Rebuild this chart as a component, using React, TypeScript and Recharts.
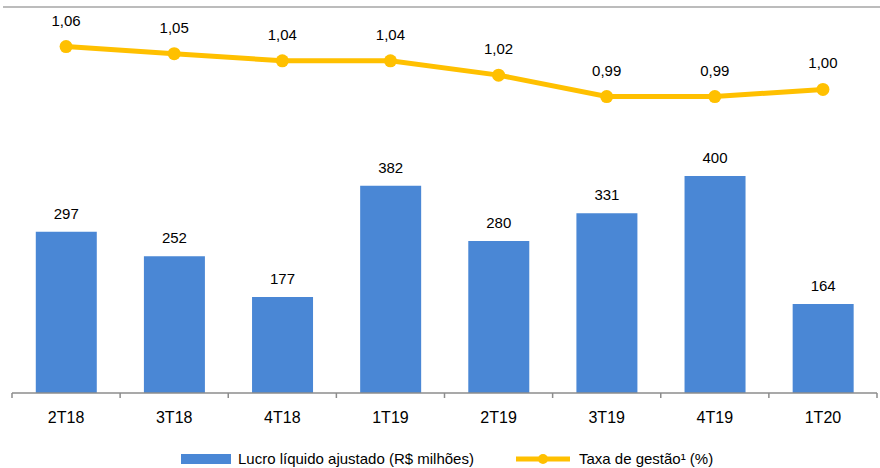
import { ComposedChart, Bar, Line, XAxis, YAxis, LabelList, Legend } from "recharts";

const quarters = ["2T18", "3T18", "4T18", "1T19", "2T19", "3T19", "4T19", "1T20"];
const lucro = [297, 252, 177, 382, 280, 331, 400, 164];
const taxa = [1.06, 1.05, 1.04, 1.04, 1.02, 0.99, 0.99, 1.0];

const data = quarters.map((q, i) => ({ name: q, lucro: lucro[i], taxa: taxa[i] }));

const W = 880;
const H = 468;
const M = { top: 18, right: 3, left: 12, bottom: 0 };
const BAND = (W - M.left - M.right) / quarters.length;

const FONT = '"Liberation Sans", Arial, sans-serif';
const BLUE = "#4a87d5";
const GOLD = "#ffc000";
const AXIS = "#8c8c8c";

const fmt = (v: number) => v.toFixed(2).replace(".", ",");

// category label plus a tick mark on the left boundary of each band (and the right end)
const AxisTick = ({ x, y, payload, index }: any) => (
  <g>
    <line x1={x - BAND / 2} x2={x - BAND / 2} y1={y} y2={y + 5} stroke={AXIS} strokeWidth={1.5} />
    {index === quarters.length - 1 && (
      <line x1={x + BAND / 2} x2={x + BAND / 2} y1={y} y2={y + 5} stroke={AXIS} strokeWidth={1.5} />
    )}
    <text x={x} y={y + 30} textAnchor="middle" fontSize={16} fontFamily={FONT} fill="#000">
      {payload.value}
    </text>
  </g>
);

const LegendBox = () => (
  <div style={{ display: "flex", alignItems: "center", paddingLeft: 181, fontFamily: FONT, fontSize: 15, color: "#000" }}>
    <span style={{ display: "inline-block", width: 50, height: 10, background: BLUE, marginRight: 7 }} />
    <span>Lucro líquido ajustado (R$ milhões)</span>
    <svg width={54} height={14} style={{ marginLeft: 42, marginRight: 9 }}>
      <line x1={0} x2={54} y1={7} y2={7} stroke={GOLD} strokeWidth={5} strokeLinecap="round" />
      <circle cx={27} cy={7} r={5} fill={GOLD} />
    </svg>
    <span>Taxa de gestão¹ (%)</span>
  </div>
);

export default function App() {
  return (
    <div style={{ position: "absolute", left: 0, top: 0, width: W, height: H, background: "#fff" }}>
      <div style={{ position: "absolute", left: 3, top: 6, width: 877, height: 2, background: "#bcbcbc" }} />
      <ComposedChart width={W} height={H} data={data} margin={M} barCategoryGap="22%">
        <XAxis
          dataKey="name"
          height={75}
          axisLine={{ stroke: AXIS, strokeWidth: 1.5 }}
          tickLine={false}
          tickSize={0}
          tickMargin={0}
          tick={<AxisTick />}
          interval={0}
        />
        <YAxis yAxisId="l" hide domain={[0, 691]} />
        <YAxis yAxisId="r" hide orientation="right" domain={[0.575, 1.1]} />
        <Legend
          verticalAlign="middle"
          align="center"
          layout="horizontal"
          content={<LegendBox />}
          wrapperStyle={{ top: 450, left: 0, width: W }}
        />
        <Bar yAxisId="l" dataKey="lucro" name="Lucro líquido ajustado (R$ milhões)" fill={BLUE} isAnimationActive={false}>
          <LabelList dataKey="lucro" position="top" offset={13} fontSize={15} fontFamily={FONT} fill="#000" />
        </Bar>
        <Line
          yAxisId="r"
          dataKey="taxa"
          name="Taxa de gestão¹ (%)"
          stroke={GOLD}
          strokeWidth={5}
          dot={{ r: 6.5, fill: GOLD, stroke: GOLD, strokeWidth: 0 }}
          isAnimationActive={false}
        >
          <LabelList dataKey="taxa" position="top" offset={21} fontSize={15} fontFamily={FONT} fill="#000" formatter={(v: any) => fmt(Number(v))} />
        </Line>
      </ComposedChart>
    </div>
  );
}
